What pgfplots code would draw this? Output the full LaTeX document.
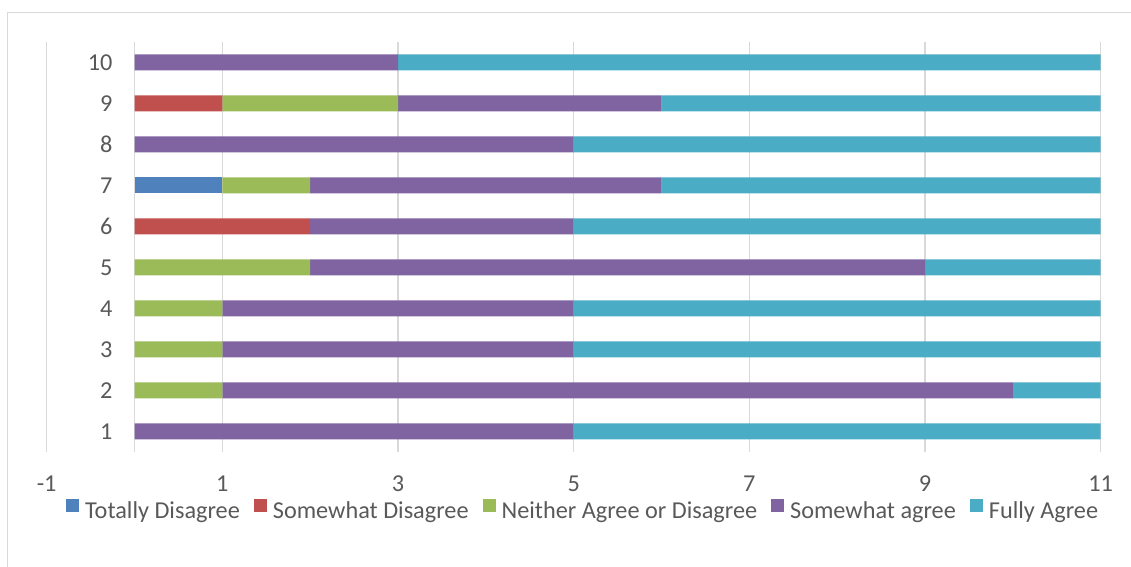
\documentclass[border=0pt]{standalone}
\usepackage{pgfplots}
\pgfplotsset{compat=1.18}
\usepackage{fontspec}
\setmainfont{Carlito}

\definecolor{tdblue}{HTML}{4F81BD}
\definecolor{sdred}{HTML}{C0504D}
\definecolor{nagreen}{HTML}{9BBB59}
\definecolor{sapurple}{HTML}{8064A2}
\definecolor{faaqua}{HTML}{4BACC6}
\definecolor{gridgray}{HTML}{D9D9D9}
\definecolor{labelgray}{HTML}{595959}

\begin{document}
\begin{tikzpicture}[x=1pt,y=1pt]
% page = 1131 x 567 px at 0.75pt per px, origin at plot box lower left
\useasboundingbox (-35.0,-86.25) rectangle (813.25,339.0);
\draw[gridgray, line width=1.1pt] (-29.55,-95) -- (-29.55,329.8) -- (830,329.8);
\begin{axis}[
    at={(0,0)}, anchor=south west,
    scale only axis,
    width=790.5pt, height=307.5pt,
    xbar stacked,
    bar width=12pt,
    xmin=-1, xmax=11,
    ymin=0.5, ymax=10.5,
    xtick={-1,1,3,5,7,9,11},
    xticklabels={-1,1,3,5,7,9,11},
    ytick={1,2,3,4,5,6,7,8,9,10},
    yticklabels={1,2,3,4,5,6,7,8,9,10},
    xmajorgrids,
    grid style={gridgray, line width=1.1pt},
    axis x line*=bottom,
    axis y line*=middle,
    x axis line style={draw=none},
    y axis line style={gridgray, line width=1.1pt},
    major tick length=0pt,
    tick label style={font=\fontsize{18.2}{21}\selectfont, text=labelgray},
    xticklabel style={yshift=-14.5pt},
    yticklabel style={xshift=-13pt},
    every axis plot post/.append style={
        draw=none,
        legend image code/.code={\fill[##1] (0pt,-0.5pt) rectangle (9.75pt,9.25pt);}
    },
    legend columns=5,
    legend style={
        at={(0.508,-0.1415)}, anchor=center,
        draw=none, fill=none,
        font=\fontsize{18.2}{21}\selectfont, text=labelgray,
        nodes={inner sep=0pt},
        /tikz/every odd column/.append style={column sep=4.5pt},
        /tikz/every even column/.append style={column sep=10.5pt}
    },
]
\addplot[fill=tdblue] coordinates {
    (0,1) (0,2) (0,3) (0,4) (0,5) (0,6) (1,7) (0,8) (0,9) (0,10)
};
\addlegendentry{Totally Disagree}
\addplot[fill=sdred] coordinates {
    (0,1) (0,2) (0,3) (0,4) (0,5) (2,6) (0,7) (0,8) (1,9) (0,10)
};
\addlegendentry{Somewhat Disagree}
\addplot[fill=nagreen] coordinates {
    (0,1) (1,2) (1,3) (1,4) (2,5) (0,6) (1,7) (0,8) (2,9) (0,10)
};
\addlegendentry{Neither Agree or Disagree}
\addplot[fill=sapurple] coordinates {
    (5,1) (9,2) (4,3) (4,4) (7,5) (3,6) (4,7) (5,8) (3,9) (3,10)
};
\addlegendentry{Somewhat agree}
\addplot[fill=faaqua] coordinates {
    (6,1) (1,2) (6,3) (6,4) (2,5) (6,6) (5,7) (6,8) (5,9) (8,10)
};
\addlegendentry{Fully Agree}
\end{axis}
\end{tikzpicture}
\end{document}
